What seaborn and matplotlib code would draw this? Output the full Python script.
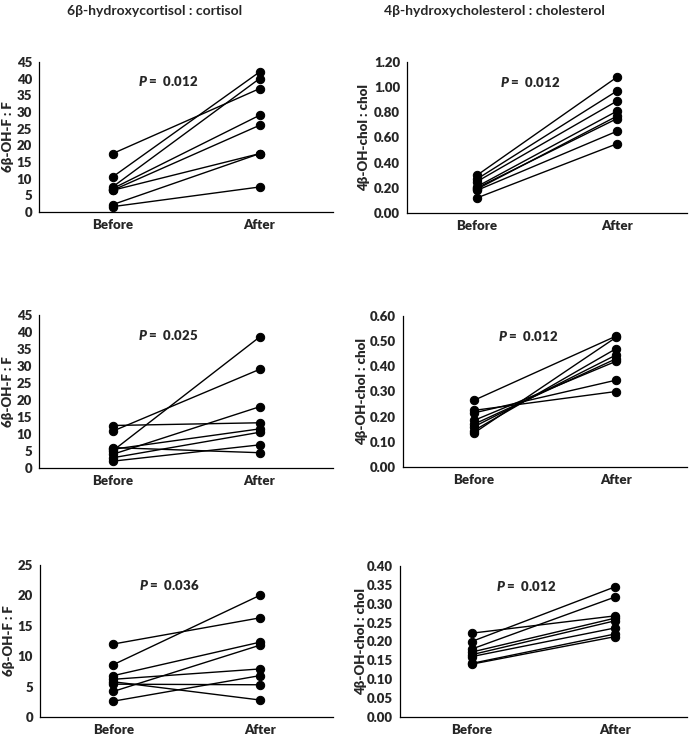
import numpy as np
import pandas as pd
import matplotlib
matplotlib.use("Agg")
import matplotlib.pyplot as plt
import seaborn as sns

times = ["Before", "After"]

# 6b-OH-F : F, top / middle / bottom rows
cort1_before = [17.5, 10.5, 7.5, 7.0, 6.5, 6.5, 2.2, 1.6]
cort1_after = [37.0, 42.0, 40.0, 29.0, 26.0, 17.5, 17.5, 7.5]
cort2_before = [12.5, 10.8, 5.0, 4.0, 5.5, 3.0, 2.0, 6.0]
cort2_after = [13.3, 29.0, 38.5, 18.0, 11.5, 10.5, 6.8, 4.5]
cort3_before = [12.0, 8.6, 6.8, 4.2, 6.2, 2.6, 5.4, 5.8]
cort3_after = [16.3, 20.0, 12.3, 11.8, 7.9, 6.8, 5.3, 2.8]

# 4b-OH-chol : chol
chol1_before = [0.30, 0.27, 0.25, 0.21, 0.20, 0.19, 0.18, 0.12]
chol1_after = [1.08, 0.97, 0.89, 0.81, 0.75, 0.77, 0.65, 0.55]
chol2_before = [0.265, 0.225, 0.215, 0.135, 0.145, 0.16, 0.17, 0.185]
chol2_after = [0.52, 0.30, 0.345, 0.515, 0.47, 0.445, 0.43, 0.42]
chol3_before = [0.222, 0.20, 0.18, 0.172, 0.165, 0.160, 0.142, 0.140]
chol3_after = [0.268, 0.345, 0.318, 0.262, 0.255, 0.236, 0.220, 0.213]

cort_ticks1 = [0, 5, 10, 15, 20, 25, 30, 35, 40, 45]
cort_ticks3 = [0, 5, 10, 15, 20, 25]
chol_ticks1 = [0.0, 0.2, 0.4, 0.6, 0.8, 1.0, 1.2]
chol_ticks2 = [0.0, 0.1, 0.2, 0.3, 0.4, 0.5, 0.6]
chol_ticks3 = [0.0, 0.05, 0.10, 0.15, 0.20, 0.25, 0.30, 0.35, 0.40]

p_values = ["0.012", "0.025", "0.036", "0.012", "0.012", "0.012"]

sns.set_style("white")
plt.rcParams["font.family"] = ["Lato", "DejaVu Sans"]
plt.rcParams["font.weight"] = "heavy"
plt.rcParams["mathtext.fontset"] = "custom"
plt.rcParams["mathtext.it"] = "Lato:italic:heavy"
plt.rcParams["mathtext.rm"] = "Lato:heavy"

W, H = 691, 737
fig = plt.figure(figsize=(W / 100, H / 100), dpi=100)


def box(x0, x1, ytop, ybot):
    return [x0 / W, 1 - ybot / H, (x1 - x0) / W, (ybot - ytop) / H]


def panel(pos, before, after, ticks, fmt, ylabel, pval, label_x):
    ax = fig.add_axes(pos)
    n = len(before)
    df = pd.DataFrame({
        "subject": list(range(n)) * 2,
        "time": ["Before"] * n + ["After"] * n,
        "value": before + after,
    })
    sns.lineplot(data=df, x="time", y="value", units="subject", estimator=None,
                 color="black", marker="o", markersize=6, markeredgecolor="black",
                 linewidth=1.0, legend=False, ax=ax)
    ax.set_xlim(-0.5, 1.5)
    ax.set_ylim(ticks[0], ticks[-1])
    ax.set_yticks(ticks)
    ax.set_yticklabels([fmt.format(t) for t in ticks], fontweight="heavy")
    ax.set_xticks([0, 1])
    ax.set_xticklabels(times, fontweight="heavy")
    ax.set_xlabel("")
    ax.set_ylabel(ylabel, fontsize=9.5, fontweight="heavy")
    ax.yaxis.set_label_coords(label_x, 0.5)
    ax.tick_params(axis="both", length=0, labelsize=9.5)
    ax.tick_params(axis="y", pad=5)
    ax.tick_params(axis="x", pad=5)
    for s in ["top", "right"]:
        ax.spines[s].set_visible(False)
    for s in ["left", "bottom"]:
        ax.spines[s].set_color("black")
        ax.spines[s].set_linewidth(0.9)
    ax.text(0.44, 0.87, "$P$ =  " + pval, transform=ax.transAxes,
            ha="center", va="center", fontsize=9.5, fontweight="heavy")
    return ax


panel(box(39, 333, 62, 212), cort1_before, cort1_after, cort_ticks1, "{:.0f}",
      "6β-OH-F : F", p_values[0], -0.084)
panel(box(39, 333, 315, 468), cort2_before, cort2_after, cort_ticks1, "{:.0f}",
      "6β-OH-F : F", p_values[1], -0.084)
panel(box(40, 333, 565, 717), cort3_before, cort3_after, cort_ticks3, "{:.0f}",
      "6β-OH-F : F", p_values[2], -0.087)
panel(box(407, 687, 62, 213), chol1_before, chol1_after, chol_ticks1, "{:.2f}",
      "4β-OH-chol : chol", p_values[3], -0.132)
panel(box(403, 687, 316, 467), chol2_before, chol2_after, chol_ticks2, "{:.2f}",
      "4β-OH-chol : chol", p_values[4], -0.123)
panel(box(400, 687, 566, 717), chol3_before, chol3_after, chol_ticks3, "{:.2f}",
      "4β-OH-chol : chol", p_values[5], -0.115)

fig.text(155 / W, 1 - 11 / H, "6β-hydroxycortisol : cortisol", ha="center",
         va="center", fontsize=10, fontweight="bold")
fig.text(494 / W, 1 - 11 / H, "4β-hydroxycholesterol : cholesterol", ha="center",
         va="center", fontsize=10, fontweight="bold")

fig.savefig("out.png", dpi=100)
